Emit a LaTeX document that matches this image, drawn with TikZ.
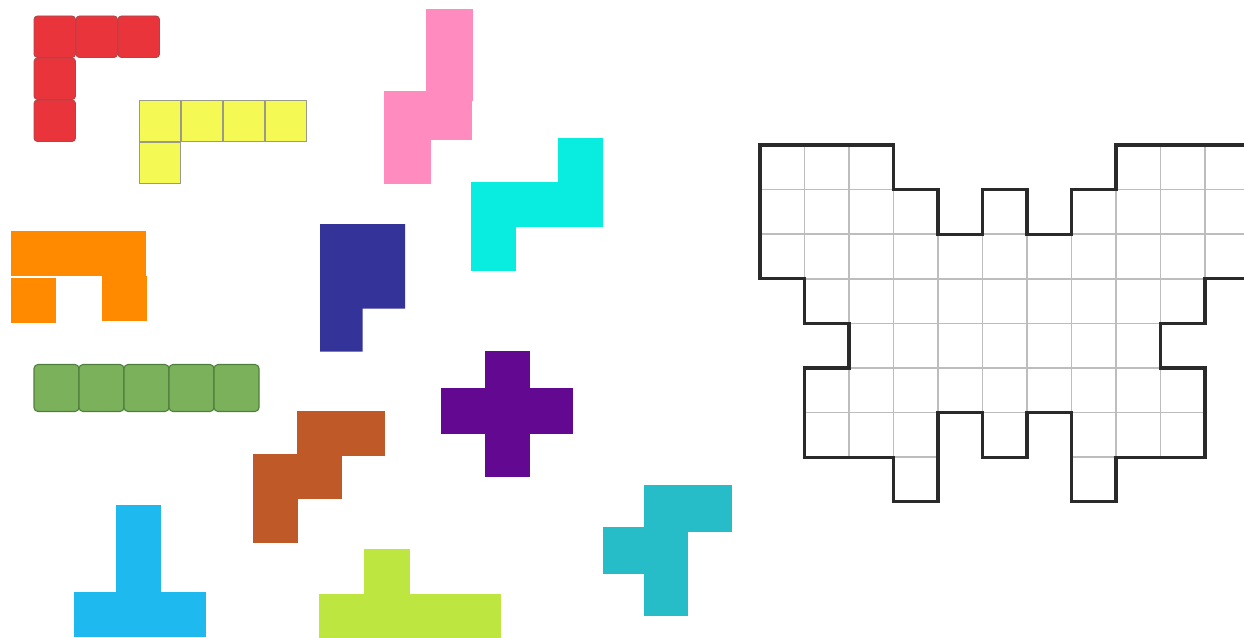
\documentclass[tikz,border=0pt]{standalone}
\usetikzlibrary{calc}
\definecolor{cred}{HTML}{E9343B}
\definecolor{credb}{HTML}{A8484B}
\definecolor{cyel}{HTML}{F5F953}
\definecolor{cyelb}{HTML}{9A9A8A}
\definecolor{corange}{HTML}{FF8A00}
\definecolor{cnavy}{HTML}{333399}
\definecolor{cgreen}{HTML}{7BB15B}
\definecolor{cgreenb}{HTML}{4F7F3A}
\definecolor{cbrown}{HTML}{BF5A28}
\definecolor{cpurple}{HTML}{630890}
\definecolor{clime}{HTML}{BDE640}
\definecolor{cteal}{HTML}{26BDC9}
\definecolor{cpink}{HTML}{FF8BBF}
\definecolor{ccyan}{HTML}{08EDE0}
\definecolor{csky}{HTML}{1DB9EF}
\definecolor{cgrid}{HTML}{BDBDBD}
\definecolor{cout}{HTML}{2A2A2A}
\tikzset{
  redcell/.style={fill=cred,draw=credb,line width=0.6pt,rounded corners=2.5pt},
  yelcell/.style={fill=cyel,draw=cyelb,line width=0.6pt},
  greencell/.style={fill=cgreen,draw=cgreenb,line width=0.8pt,rounded corners=3pt},
  gridline/.style={draw=cgrid,line width=1.1pt},
  outline/.style={draw=cout,line width=2.3pt,line join=miter},
}
\begin{document}
\begin{tikzpicture}[x=0.75pt,y=-0.75pt]
\useasboundingbox (0,0) rectangle (1244,638);
\clip (0,0) rectangle (1244,638);
% red V
\foreach \x/\y in {34/16,76/16,118/16,34/58,34/100}
  \path[redcell] (\x,\y) rectangle ++(41.5,41.5);
% yellow L
\foreach \x/\y in {139/100,181/100,223/100,265/100,139/142}
  \path[yelcell] (\x,\y) rectangle ++(41.5,41.5);
% orange U
\fill[corange] (11,231) rectangle (146,276);
\fill[corange] (11,278) rectangle (55.7,322.7);
\fill[corange] (102,276) rectangle (146.7,320.7);
% navy P
\fill[cnavy] (320,224) -- (405,224) -- (405,308.7) -- (362.7,308.7) -- (362.7,351.7) -- (320,351.7) -- cycle;
% green I
\foreach \i in {0,...,4}
  \path[greencell] ({34+45*\i},364.5) rectangle ++(45,47);
% brown W
\fill[cbrown] (253,454) rectangle (298,542.7);
\fill[cbrown] (297,411) rectangle (342,499);
\fill[cbrown] (340,411) rectangle (385,456);
% purple X
\fill[cpurple] (485,351) rectangle (530,390);
\fill[cpurple] (441,388) rectangle (573,434);
\fill[cpurple] (485,433) rectangle (530,476.7);
% lime Y
\fill[clime] (364,549) rectangle (410,595);
\fill[clime] (319,594) rectangle (501,638);
% teal F
\fill[cteal] (644,485) rectangle (732,532);
\fill[cteal] (603,527) rectangle (688,574);
\fill[cteal] (644,573) rectangle (688,616);
% pink N
\fill[cpink] (426,9) rectangle (473,101);
\fill[cpink] (384,91) rectangle (472,140);
\fill[cpink] (384,139) rectangle (431,183.7);
% cyan Z
\fill[ccyan] (558,138) rectangle (603,183);
\fill[ccyan] (471,182) rectangle (603,226.7);
\fill[ccyan] (471,226) rectangle (515.7,270.7);
% sky T
\fill[csky] (116,505) rectangle (161,551);
\fill[csky] (116,550) rectangle (161,593);
\fill[csky] (74,592) rectangle (205.7,637);
% butterfly grid
\begin{scope}[shift={(760,145)},x=33.375pt,y=-33.45pt]
  \begin{scope}
    \clip (0,0) -- (3,0) -- (3,1) -- (4,1) -- (4,2) -- (5,2) -- (5,1) -- (6,1) -- (6,2) -- (7,2) -- (7,1) -- (8,1) -- (8,0) -- (11,0) -- (11,3) -- (10,3) -- (10,4) -- (9,4) -- (9,5) -- (10,5) -- (10,7) -- (8,7) -- (8,8) -- (7,8) -- (7,6) -- (6,6) -- (6,7) -- (5,7) -- (5,6) -- (4,6) -- (4,8) -- (3,8) -- (3,7) -- (1,7) -- (1,5) -- (2,5) -- (2,4) -- (1,4) -- (1,3) -- (0,3) -- cycle;
    \foreach \i in {0,...,11} \draw[gridline] (\i,0) -- (\i,8);
    \foreach \j in {0,...,8} \draw[gridline] (0,\j) -- (11,\j);
  \end{scope}
  \draw[outline] (0,0) -- (3,0) -- (3,1) -- (4,1) -- (4,2) -- (5,2) -- (5,1) -- (6,1) -- (6,2) -- (7,2) -- (7,1) -- (8,1) -- (8,0) -- (11,0) -- (11,3) -- (10,3) -- (10,4) -- (9,4) -- (9,5) -- (10,5) -- (10,7) -- (8,7) -- (8,8) -- (7,8) -- (7,6) -- (6,6) -- (6,7) -- (5,7) -- (5,6) -- (4,6) -- (4,8) -- (3,8) -- (3,7) -- (1,7) -- (1,5) -- (2,5) -- (2,4) -- (1,4) -- (1,3) -- (0,3) -- cycle;
\end{scope}
\end{tikzpicture}
\end{document}
